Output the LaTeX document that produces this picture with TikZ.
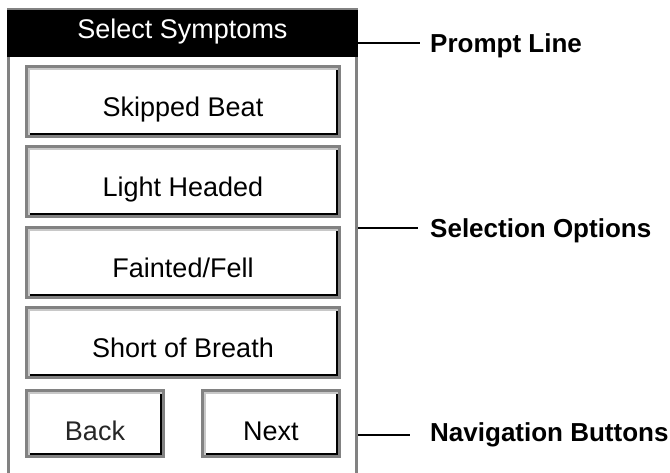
\documentclass[tikz,border=0pt]{standalone}
\usepackage{fontspec}
\setmainfont{Liberation Sans}
\definecolor{btngray}{RGB}{130,130,130}
\definecolor{btnlight}{RGB}{200,200,200}
\newcommand\btnfont{\fontsize{27}{30}\selectfont}
\newcommand\lblfont{\fontsize{26}{30}\selectfont\bfseries}
\tikzset{
  winbtn/.style={inner sep=0pt, fill=white, font=\btnfont, text height=29.4pt, text depth=0pt,
    path picture={
      \fill[btngray] (path picture bounding box.south west) rectangle (path picture bounding box.north east);
      \fill[btnlight] ([shift={(3pt,3pt)}]path picture bounding box.south west) rectangle ([shift={(-3pt,-3pt)}]path picture bounding box.north east);
      \fill[black] ([shift={(5pt,3pt)}]path picture bounding box.south west) rectangle ([shift={(-3pt,-5pt)}]path picture bounding box.north east);
      \fill[white] ([shift={(5pt,5pt)}]path picture bounding box.south west) rectangle ([shift={(-5pt,-5pt)}]path picture bounding box.north east);
    }},
  bigbtn/.style={winbtn, minimum width=316pt, minimum height=73pt},
  navbtn/.style={winbtn, minimum width=140pt, minimum height=69pt, text height=33.4pt},
  screenframe/.style={draw=btngray, line width=3pt, minimum width=348pt, minimum height=466pt, inner sep=0pt},
  headerbar/.style={fill=black, text=white, inner sep=0pt, minimum width=351pt, minimum height=47pt,
    font=\btnfont, text height=19.4pt, text depth=9pt},
  callout/.style={anchor=west, inner sep=0pt, font=\lblfont, text height=18.7pt, text depth=0pt},
  conn/.style={draw=black, line width=2pt}
}
\begin{document}
\begin{tikzpicture}[x=1pt,y=-1pt]
\useasboundingbox (0,0) rectangle (670,473);
\clip (0,0) rectangle (670,473);
\fill[white] (0,0) rectangle (670,473);
% screen frame and prompt line
\node[screenframe] (frame) at (182.5,243) {};
\node[headerbar] (prompt) at (182.5,33.5) {Select Symptoms};
% selection options
\node[bigbtn] (b1) at (183,101.5) {Skipped Beat};
\node[bigbtn] (b2) at (183,181.5) {Light Headed};
\node[bigbtn] (b3) at (183,262.5) {Fainted/Fell};
\node[bigbtn] (b4) at (183,342.5) {Short of Breath};
% navigation buttons
\node[navbtn, text=black!85] (back) at (95,423.5) {Back};
\node[navbtn] (next) at (271,423.5) {Next};
% callouts
\node[callout] (pl) at (430,43) {Prompt Line};
\node[callout] (so) at (430,228) {Selection Options};
\node[callout] (nb) at (430,432) {Navigation Buttons};
\draw[conn] (frame.east |- pl.west) -- ([xshift=-10pt]pl.west);
\draw[conn] (frame.east |- so.west) -- ([xshift=-12pt]so.west);
\draw[conn] ([yshift=-3pt]frame.east |- nb.west) -- ([shift={(-20pt,-3pt)}]nb.west);
\end{tikzpicture}
\end{document}
